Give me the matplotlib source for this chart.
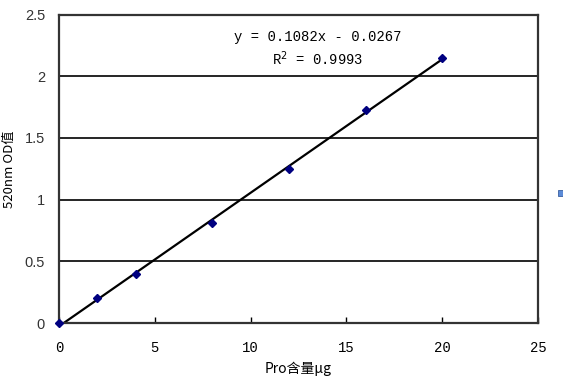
import matplotlib
matplotlib.use("Agg")
import matplotlib.pyplot as plt
import numpy as np
from matplotlib.patches import Rectangle

x_vals = [0, 2, 4, 8, 12, 16, 20]
y_vals = [0, 0.20, 0.40, 0.81, 1.25, 1.73, 2.15]
slope = 0.1082
intercept = -0.0267
x_ticks = [0, 5, 10, 15, 20, 25]
y_ticks = [0, 0.5, 1, 1.5, 2, 2.5]
y_tick_labels = ["0", "0.5", "1", "1.5", "2", "2.5"]
eq_text = "y = 0.1082x - 0.0267"
r2_text = "R$^2$ = 0.9993"
xlabel = "Pro含量μg"
ylabel = "520nm OD值"

cjk = ["Noto Sans CJK SC", "DejaVu Sans"]
mono = ["Liberation Mono", "DejaVu Sans Mono"]

fig = plt.figure(figsize=(5.63, 3.85), dpi=100)
ax = fig.add_axes([0.1048, 0.161, 0.8508, 0.8013])

for yv in y_ticks[1:-1]:
    ax.axhline(yv, color="black", lw=1.2, zorder=1)

xf = np.array([x_vals[0], x_vals[-1]])
ax.plot(xf, slope * xf + intercept, color="black", lw=1.6, zorder=2)
ax.plot(x_vals, y_vals, linestyle="none", marker="D", color="#000080",
        markersize=4, zorder=3, clip_on=False)

ax.set_xlim(0, 25)
ax.set_ylim(0, 2.5)
ax.set_xticks(x_ticks)
ax.set_xticklabels([str(t) for t in x_ticks], family=mono, fontsize=10)
ax.set_yticks(y_ticks)
ax.set_yticklabels(y_tick_labels, family=["Liberation Sans"], fontsize=10.5, color="#333")
ax.tick_params(axis="x", direction="in", length=4, width=1, pad=13)
ax.tick_params(axis="y", length=0, pad=10)
for s in ax.spines.values():
    s.set_linewidth(1.6)
    s.set_color("#333333")

ax.set_xlabel(xlabel, family=cjk, fontsize=10)
ax.xaxis.set_label_coords(0.5, (323 - 369) / 308.5)
ax.set_ylabel(ylabel, family=cjk, fontsize=9.5)
ax.yaxis.set_label_coords((9 - 59) / 479.5, 0.5)
ax.xaxis.label.set_va("center")
ax.yaxis.label.set_va("center")

ax.text(13.5, 2.32, eq_text, ha="center", va="center", fontsize=10, family=mono)
ax.text(13.5, 2.14, r2_text, ha="center", va="center", fontsize=10, family=mono)

fig.patches.append(Rectangle((558 / 563, 1 - 196 / 385), 6 / 563, 6 / 385,
                             transform=fig.transFigure, facecolor="#5b8bd8",
                             edgecolor="#3a5f9f", lw=0.6))

fig.savefig("out.png", dpi=100)
